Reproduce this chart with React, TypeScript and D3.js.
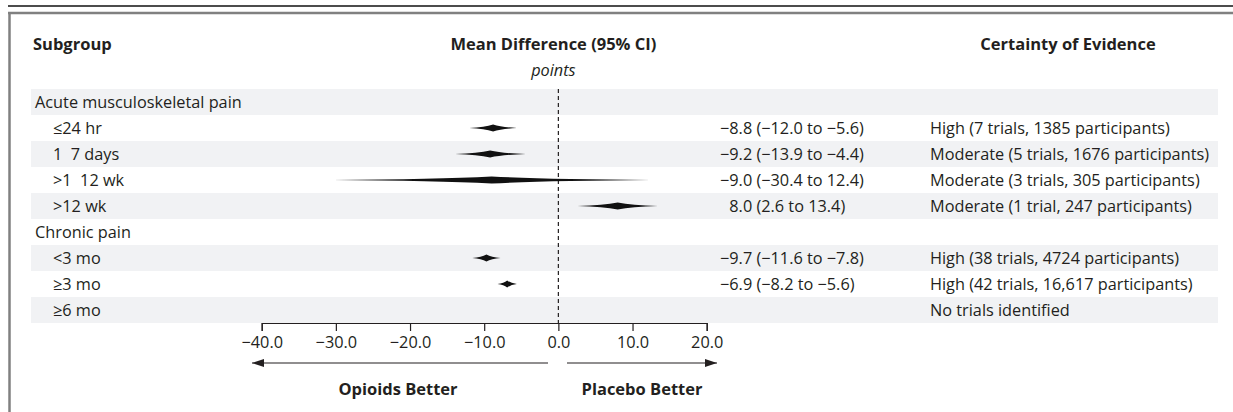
import React, { useEffect, useRef } from "react";
import * as d3 from "d3";

// rows of the forest plot, top to bottom
const subgroups = [
  "Acute musculoskeletal pain",
  "≤24 hr",
  "1  7 days",
  ">1  12 wk",
  ">12 wk",
  "Chronic pain",
  "<3 mo",
  "≥3 mo",
  "≥6 mo",
];
const isGroup = [true, false, false, false, false, true, false, false, false];
const meanDiff = [null, -8.8, -9.2, -9.0, 8.0, null, -9.7, -6.9, null];
const ciLow = [null, -12.0, -13.9, -30.4, 2.6, null, -11.6, -8.2, null];
const ciHigh = [null, -5.6, -4.4, 12.4, 13.4, null, -7.8, -5.6, null];
const estimateLabels = [
  "",
  "−8.8 (−12.0 to −5.6)",
  "−9.2 (−13.9 to −4.4)",
  "−9.0 (−30.4 to 12.4)",
  "\u20078.0 (2.6 to 13.4)",
  "",
  "−9.7 (−11.6 to −7.8)",
  "−6.9 (−8.2 to −5.6)",
  "",
];
const certainty = [
  "",
  "High (7 trials, 1385 participants)",
  "Moderate (5 trials, 1676 participants)",
  "Moderate (3 trials, 305 participants)",
  "Moderate (1 trial, 247 participants)",
  "",
  "High (38 trials, 4724 participants)",
  "High (42 trials, 16,617 participants)",
  "No trials identified",
];
const xTicks = [-40, -30, -20, -10, 0, 10, 20];

const W = 1233;
const H = 412;
const FONT = "'Open Sans', 'Noto Sans', sans-serif";
const INK = "#231f20";
const FS = 16.3;
const FS_BOLD = 16.5;

export default function App() {
  const ref = useRef<SVGSVGElement>(null);

  useEffect(() => {
    const svg = d3.select(ref.current);
    svg.selectAll("*").remove();

    const rowTop = 89;
    const rowH = 26;
    const x = d3.scaleLinear().domain([-40, 20]).range([261.7, 706.7]);
    const y = d3
      .scaleBand<number>()
      .domain(d3.range(subgroups.length))
      .range([rowTop, rowTop + rowH * subgroups.length]);
    const axisY = rowTop + rowH * subgroups.length;

    // frame lines
    svg.append("line").attr("x1", 8).attr("x2", W).attr("y1", 6).attr("y2", 6)
      .attr("stroke", "#111").attr("stroke-width", 1.5);
    svg.append("line").attr("x1", 8).attr("x2", W).attr("y1", 13).attr("y2", 13)
      .attr("stroke", "#808080").attr("stroke-width", 2.5);
    svg.append("line").attr("x1", 9.5).attr("x2", 9.5).attr("y1", 12).attr("y2", H)
      .attr("stroke", "#808080").attr("stroke-width", 2.5);

    // zebra rows
    svg.append("g")
      .selectAll("rect")
      .data(d3.range(subgroups.length).filter((i) => i % 2 === 0))
      .join("rect")
      .attr("x", 31)
      .attr("width", 1218 - 31)
      .attr("y", (i) => y(i)!)
      .attr("height", y.bandwidth())
      .attr("fill", "#f1f2f4");

    // headers
    const head = svg.append("g").attr("font-family", FONT).attr("fill", INK)
      .attr("font-weight", 700).attr("font-size", FS_BOLD);
    head.append("text").attr("x", 33).attr("y", 50).text("Subgroup");
    head.append("text").attr("x", x(0) - 5).attr("y", 50).attr("text-anchor", "middle")
      .text("Mean Difference (95% CI)");
    head.append("text").attr("x", 1068).attr("y", 50).attr("text-anchor", "middle")
      .text("Certainty of Evidence");
    svg.append("text").attr("x", x(0) - 5).attr("y", 76).attr("text-anchor", "middle")
      .attr("font-family", FONT).attr("font-style", "italic").attr("font-size", FS)
      .attr("fill", INK).text("points");

    // zero line
    svg.append("line").attr("x1", x(0)).attr("x2", x(0)).attr("y1", rowTop).attr("y2", axisY)
      .attr("stroke", INK).attr("stroke-width", 1.2).attr("stroke-dasharray", "4,3");

    // row texts
    const rows = svg.append("g").attr("font-family", FONT).attr("font-size", FS).attr("fill", INK)
      .selectAll("g").data(d3.range(subgroups.length)).join("g")
      .attr("transform", (i) => `translate(0,${y(i)! + 18.5})`);
    rows.append("text").attr("x", (i) => (isGroup[i] ? 35 : 53))
      .style("white-space", "pre").text((i) => subgroups[i]);
    rows.append("text").attr("x", 720).style("white-space", "pre").text((i) => estimateLabels[i]);
    rows.append("text").attr("x", 930).text((i) => certainty[i]);

    // diamonds
    const hh = 3.5;
    svg.append("g")
      .selectAll("path")
      .data(d3.range(subgroups.length).filter((i) => meanDiff[i] !== null))
      .join("path")
      .attr("fill", "#111")
      .attr("d", (i) => {
        const lo = x(ciLow[i] as number);
        const hi = x(ciHigh[i] as number);
        const m = x(meanDiff[i] as number);
        const cy = y(i)! + y.bandwidth() / 2;
        const p = d3.path();
        p.moveTo(lo, cy);
        p.quadraticCurveTo(lo + (m - lo) * 0.65, cy - hh * 0.2, m, cy - hh);
        p.quadraticCurveTo(hi - (hi - m) * 0.65, cy - hh * 0.2, hi, cy);
        p.quadraticCurveTo(hi - (hi - m) * 0.65, cy + hh * 0.2, m, cy + hh);
        p.quadraticCurveTo(lo + (m - lo) * 0.65, cy + hh * 0.2, lo, cy);
        p.closePath();
        return p.toString();
      });

    // axis
    const axis = svg.append("g")
      .attr("transform", `translate(0,${axisY})`)
      .call(
        d3.axisBottom(x).tickValues(xTicks).tickSize(8).tickSizeOuter(8).tickPadding(5)
          .tickFormat(d3.format(".1f"))
      );
    axis.select(".domain").attr("stroke", INK).attr("stroke-width", 1.2);
    axis.selectAll(".tick line").attr("stroke", INK).attr("stroke-width", 1.2);
    axis.selectAll(".tick text").attr("font-family", FONT).attr("font-size", FS).attr("fill", INK);

    // direction arrows
    const arrowY = 363;
    const defs = svg.append("defs");
    defs.append("marker").attr("id", "ah").attr("viewBox", "0 0 12 8")
      .attr("refX", 12).attr("refY", 4).attr("markerWidth", 12).attr("markerHeight", 8)
      .attr("markerUnits", "userSpaceOnUse").attr("orient", "auto")
      .append("path").attr("d", "M0,0L12,4L0,8Z").attr("fill", INK);
    svg.append("line").attr("x1", 548).attr("x2", 252).attr("y1", arrowY).attr("y2", arrowY)
      .attr("stroke", INK).attr("stroke-width", 1.2).attr("marker-end", "url(#ah)");
    svg.append("line").attr("x1", 567).attr("x2", 717).attr("y1", arrowY).attr("y2", arrowY)
      .attr("stroke", INK).attr("stroke-width", 1.2).attr("marker-end", "url(#ah)");

    const foot = svg.append("g").attr("font-family", FONT).attr("font-weight", 700)
      .attr("font-size", FS_BOLD).attr("fill", INK).attr("text-anchor", "middle");
    foot.append("text").attr("x", 398).attr("y", 395).text("Opioids Better");
    foot.append("text").attr("x", 642).attr("y", 395).text("Placebo Better");
  }, []);

  return (
    <svg
      ref={ref}
      width={W}
      height={H}
      style={{ position: "absolute", left: 0, top: 0, background: "#fff" }}
    />
  );
}
